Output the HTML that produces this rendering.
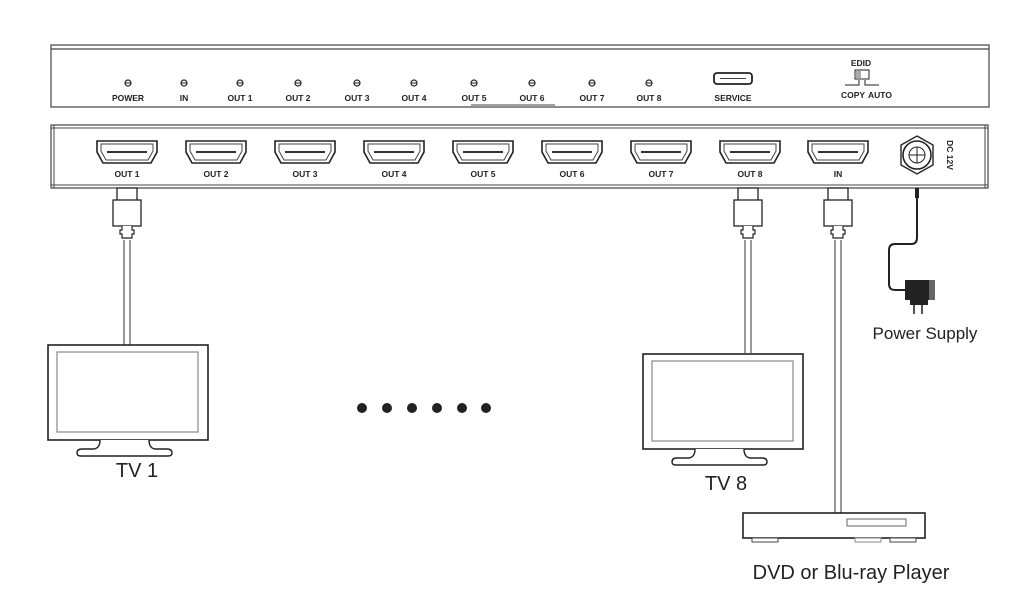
<!DOCTYPE html>
<html><head><meta charset="utf-8"><style>
html,body{margin:0;padding:0;background:#fff;}
svg{display:block;font-family:"Liberation Sans",Arial,sans-serif;}
.b{font-weight:bold;font-size:8.5px;fill:#222;text-anchor:middle;}
</style></head><body>
<svg width="1024" height="600" viewBox="0 0 1024 600" xmlns="http://www.w3.org/2000/svg">
<defs>
<g id="hdmi">
<path d="M-30,-11 h60 v11 l-6,11 h-48 l-6,-11 z" fill="#fff" stroke="#222" stroke-width="1.6"/>
<path d="M-26,-8 h52 v7 l-5,9 h-42 l-5,-9 z" fill="none" stroke="#444" stroke-width="1"/>
<line x1="-20" y1="0" x2="20" y2="0" stroke="#333" stroke-width="2"/>
</g>
<g id="led"><circle r="3" fill="#fff" stroke="#222" stroke-width="1.2"/><line x1="-3" y1="0" x2="3" y2="0" stroke="#222"/></g>
<g id="plug">
<rect x="-10" y="0" width="20" height="14" fill="#fff" stroke="#222" stroke-width="1.3"/>
<rect x="-14" y="12" width="28" height="26" fill="#fff" stroke="#222" stroke-width="1.3"/>
<path d="M-5,38 v4 h-2 v4 h2 v4 h10 v-4 h2 v-4 h-2 v-4" fill="#fff" stroke="#222" stroke-width="1.2"/>
</g>
<g id="tv">
<rect x="0" y="0" width="160" height="95" fill="#fff" stroke="#222" stroke-width="1.6"/>
<rect x="9" y="7" width="141" height="80" fill="#fff" stroke="#888" stroke-width="1.2"/>
<path d="M52,95 q0,8 -6,9 h-12 q-5,0 -5,4 q0,3 4,3 h87 q4,0 4,-3 q0,-4 -5,-4 h-12 q-6,-1 -6,-9" fill="#fff" stroke="#222" stroke-width="1.4"/>
</g>
</defs>

<!-- top panel -->
<line x1="51" y1="45" x2="989" y2="45" stroke="#444" stroke-width="1"/>
<line x1="51" y1="49" x2="989" y2="49" stroke="#444" stroke-width="1.2"/>
<rect x="51" y="45" width="938" height="62" fill="none" stroke="#444" stroke-width="1.2"/>
<g>
<use href="#led" x="128" y="83"/><use href="#led" x="184" y="83"/><use href="#led" x="240" y="83"/>
<use href="#led" x="298" y="83"/><use href="#led" x="357" y="83"/><use href="#led" x="414" y="83"/>
<use href="#led" x="474" y="83"/><use href="#led" x="532" y="83"/><use href="#led" x="592" y="83"/>
<use href="#led" x="649" y="83"/>
</g>
<text class="b" x="128" y="101">POWER</text><text class="b" x="184" y="101">IN</text>
<text class="b" x="240" y="101">OUT 1</text><text class="b" x="298" y="101">OUT 2</text>
<text class="b" x="357" y="101">OUT 3</text><text class="b" x="414" y="101">OUT 4</text>
<text class="b" x="474" y="101">OUT 5</text><text class="b" x="532" y="101">OUT 6</text>
<text class="b" x="592" y="101">OUT 7</text><text class="b" x="649" y="101">OUT 8</text>
<text class="b" x="733" y="101">SERVICE</text>
<line x1="471" y1="105" x2="555" y2="105" stroke="#444" stroke-width="1"/>
<rect x="714" y="73" width="38" height="11" rx="3" fill="#fff" stroke="#222" stroke-width="1.8"/>
<line x1="720" y1="78.5" x2="746" y2="78.5" stroke="#444" stroke-width="1"/>
<text class="b" x="861" y="66">EDID</text>
<rect x="855" y="70" width="14" height="9" fill="#fff" stroke="#222"/>
<rect x="856" y="71" width="5" height="7" fill="#aaa"/>
<path d="M845,85 h14 v-5 M865,80 v5 h14" fill="none" stroke="#222"/>
<text class="b" x="853" y="98" font-size="8">COPY</text><text class="b" x="880" y="98" font-size="8">AUTO</text>

<!-- lower panel -->
<rect x="51" y="125" width="937" height="63" fill="#fff" stroke="#444" stroke-width="1.2"/>
<line x1="51" y1="128" x2="988" y2="128" stroke="#444"/>
<line x1="51" y1="185" x2="988" y2="185" stroke="#444"/>
<line x1="54" y1="125" x2="54" y2="188" stroke="#444"/>
<line x1="985" y1="125" x2="985" y2="188" stroke="#444"/>
<use href="#hdmi" x="127" y="152"/><use href="#hdmi" x="216" y="152"/><use href="#hdmi" x="305" y="152"/>
<use href="#hdmi" x="394" y="152"/><use href="#hdmi" x="483" y="152"/><use href="#hdmi" x="572" y="152"/>
<use href="#hdmi" x="661" y="152"/><use href="#hdmi" x="750" y="152"/><use href="#hdmi" x="838" y="152"/>
<text class="b" x="127" y="177">OUT 1</text><text class="b" x="216" y="177">OUT 2</text>
<text class="b" x="305" y="177">OUT 3</text><text class="b" x="394" y="177">OUT 4</text>
<text class="b" x="483" y="177">OUT 5</text><text class="b" x="572" y="177">OUT 6</text>
<text class="b" x="661" y="177">OUT 7</text><text class="b" x="750" y="177">OUT 8</text>
<text class="b" x="838" y="177">IN</text>
<polygon points="917,136 933,145 933,165 917,174 901,165 901,145" fill="#fff" stroke="#222" stroke-width="1.4"/>
<circle cx="917" cy="155" r="14" fill="#fff" stroke="#222" stroke-width="1.6"/>
<circle cx="917" cy="155" r="8" fill="#fff" stroke="#222"/>
<line x1="909" y1="155" x2="925" y2="155" stroke="#222"/><line x1="917" y1="147" x2="917" y2="163" stroke="#222"/>
<text class="b" transform="translate(947,155) rotate(90)" font-size="9">DC 12V</text>

<!-- cables -->
<path d="M124,240 V345 M130,240 V345" stroke="#333" stroke-width="1"/>
<use href="#plug" x="127" y="188"/>
<path d="M745,240 V353 M751,240 V353" stroke="#333" stroke-width="1"/>
<use href="#plug" x="748" y="188"/>
<path d="M835,240 V513 M841,240 V513" stroke="#333" stroke-width="1"/>
<use href="#plug" x="838" y="188"/>
<rect x="915" y="188" width="4" height="10" fill="#222"/>
<path d="M917,196 V238 Q917,244 911,244 H895 Q889,244 889,250 V284 Q889,290 895,290 H906" fill="none" stroke="#222" stroke-width="2"/>
<rect x="905" y="280" width="24" height="20" fill="#222"/>
<rect x="929" y="280" width="6" height="20" fill="#666"/>
<rect x="910" y="297" width="18" height="8" fill="#222"/>
<line x1="914" y1="305" x2="914" y2="314" stroke="#555" stroke-width="2"/>
<line x1="922" y1="305" x2="922" y2="314" stroke="#555" stroke-width="2"/>
<text x="925" y="339" font-size="17" fill="#222" text-anchor="middle">Power Supply</text>

<!-- TVs -->
<use href="#tv" x="48" y="345"/>
<text x="137" y="477" font-size="20" fill="#222" text-anchor="middle">TV 1</text>
<use href="#tv" x="643" y="354"/>
<text x="726" y="490" font-size="20" fill="#222" text-anchor="middle">TV 8</text>

<!-- dots -->
<g fill="#222"><circle cx="362" cy="408" r="5"/><circle cx="387" cy="408" r="5"/><circle cx="412" cy="408" r="5"/>
<circle cx="437" cy="408" r="5"/><circle cx="462" cy="408" r="5"/><circle cx="486" cy="408" r="5"/></g>

<!-- DVD -->
<rect x="743" y="513" width="182" height="25" fill="#fff" stroke="#222" stroke-width="1.6"/>
<rect x="847" y="519" width="59" height="7" fill="#fff" stroke="#666"/>
<rect x="752" y="538" width="26" height="4" fill="#fff" stroke="#444"/>
<rect x="855" y="538" width="26" height="4" fill="#fff" stroke="#888"/>
<rect x="890" y="538" width="26" height="4" fill="#fff" stroke="#444"/>
<text x="851" y="579" font-size="20" fill="#222" text-anchor="middle">DVD or Blu-ray Player</text>
</svg>
</body></html>
